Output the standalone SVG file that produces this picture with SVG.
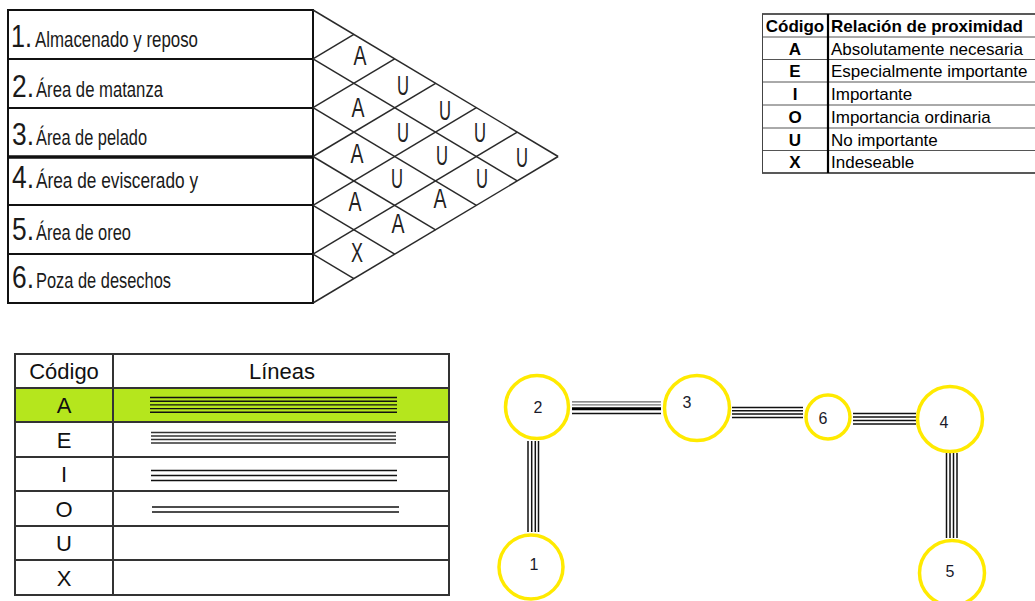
<svg xmlns="http://www.w3.org/2000/svg" width="1035" height="601" viewBox="0 0 1035 601">
  <style>
    .grid { stroke: #111; stroke-width: 2; fill: none; }
    .diag { stroke: #2a2a2a; stroke-width: 1.5; fill: none; }
    .num { font-family: "Liberation Sans Narrow", "Liberation Sans", Arial, sans-serif; font-size: 32px; fill: #1a1a1a; }
    .lbl { font-family: "Liberation Sans Narrow", "Liberation Sans", Arial, sans-serif; font-size: 22px; fill: #1a1a1a; }
    .code { font-family: "Liberation Sans Narrow", "Liberation Sans", Arial, sans-serif; font-size: 27px; fill: #222; text-anchor: middle; }
    .kt { font-family: "Liberation Sans", Arial, sans-serif; font-size: 17px; fill: #000; }
    .kb { font-weight: bold; }
    .kc { text-anchor: middle; }
    .kline { stroke: #555; stroke-width: 1; }
    .lg { stroke: #333; stroke-width: 2; fill: none; }
    .lt { font-family: "Liberation Sans", Arial, sans-serif; font-size: 22px; fill: #111; text-anchor: middle; }
    .ll { stroke: #111; stroke-width: 1.4; }
    .node { fill: #fff; stroke: #ffea00; stroke-width: 3.5; }
    .nt { font-family: "Liberation Sans", Arial, sans-serif; font-size: 16px; fill: #1a1a2a; text-anchor: middle; }
    .w { stroke: #111; stroke-width: 1.5; }
  </style>

  <!-- Relationship chart: activity list -->
  <g id="activity-table">
    <rect class="grid" x="8" y="10" width="305" height="293"/>
    <line class="grid" x1="8" y1="59" x2="313" y2="59"/>
    <line class="grid" x1="8" y1="108" x2="313" y2="108"/>
    <line class="grid" x1="8" y1="157" x2="313" y2="157" style="stroke-width:3.5"/>
    <line class="grid" x1="8" y1="205" x2="313" y2="205"/>
    <line class="grid" x1="8" y1="254" x2="313" y2="254"/>

    <text class="num" x="11" y="47" textLength="21" lengthAdjust="spacingAndGlyphs">1.</text>
    <text class="lbl" x="35" y="47" textLength="163" lengthAdjust="spacingAndGlyphs">Almacenado y reposo</text>
    <text class="num" x="12" y="97" textLength="22" lengthAdjust="spacingAndGlyphs">2.</text>
    <text class="lbl" x="36" y="97" textLength="127" lengthAdjust="spacingAndGlyphs">Área de matanza</text>
    <text class="num" x="12" y="145" textLength="22" lengthAdjust="spacingAndGlyphs">3.</text>
    <text class="lbl" x="36" y="145" textLength="111" lengthAdjust="spacingAndGlyphs">Área de pelado</text>
    <text class="num" x="12" y="188" textLength="22" lengthAdjust="spacingAndGlyphs">4.</text>
    <text class="lbl" x="36" y="188" textLength="162" lengthAdjust="spacingAndGlyphs">Área de eviscerado y</text>
    <text class="num" x="12" y="240" textLength="22" lengthAdjust="spacingAndGlyphs">5.</text>
    <text class="lbl" x="36" y="240" textLength="95" lengthAdjust="spacingAndGlyphs">Área de oreo</text>
    <text class="num" x="12" y="288" textLength="22" lengthAdjust="spacingAndGlyphs">6.</text>
    <text class="lbl" x="36" y="288" textLength="135" lengthAdjust="spacingAndGlyphs">Poza de desechos</text>
  </g>

  <!-- Relationship chart: diamond lattice -->
  <g id="relationship-lattice">
    <line class="diag" x1="313" y1="10" x2="558.1" y2="156.5"/>
    <line class="diag" x1="313" y1="58.8" x2="517.3" y2="180.9"/>
    <line class="diag" x1="313" y1="107.7" x2="476.4" y2="205.3"/>
    <line class="diag" x1="313" y1="156.5" x2="435.6" y2="229.8"/>
    <line class="diag" x1="313" y1="205.3" x2="394.7" y2="254.2"/>
    <line class="diag" x1="313" y1="254.2" x2="353.9" y2="278.6"/>
    <line class="diag" x1="313" y1="58.8" x2="353.9" y2="34.4"/>
    <line class="diag" x1="313" y1="107.7" x2="394.7" y2="58.8"/>
    <line class="diag" x1="313" y1="156.5" x2="435.6" y2="83.3"/>
    <line class="diag" x1="313" y1="205.3" x2="476.4" y2="107.7"/>
    <line class="diag" x1="313" y1="254.2" x2="517.3" y2="132.1"/>
    <line class="diag" x1="313" y1="303" x2="558.1" y2="156.5"/>

    <text class="code" x="360" y="65" textLength="13" lengthAdjust="spacingAndGlyphs">A</text>
    <text class="code" x="403" y="95" textLength="12" lengthAdjust="spacingAndGlyphs">U</text>
    <text class="code" x="358" y="117" textLength="13" lengthAdjust="spacingAndGlyphs">A</text>
    <text class="code" x="445" y="120" textLength="12" lengthAdjust="spacingAndGlyphs">U</text>
    <text class="code" x="403" y="142" textLength="12" lengthAdjust="spacingAndGlyphs">U</text>
    <text class="code" x="357" y="163" textLength="13" lengthAdjust="spacingAndGlyphs">A</text>
    <text class="code" x="480" y="142" textLength="12" lengthAdjust="spacingAndGlyphs">U</text>
    <text class="code" x="442" y="165" textLength="12" lengthAdjust="spacingAndGlyphs">U</text>
    <text class="code" x="397" y="188" textLength="12" lengthAdjust="spacingAndGlyphs">U</text>
    <text class="code" x="355" y="211" textLength="13" lengthAdjust="spacingAndGlyphs">A</text>
    <text class="code" x="522" y="167" textLength="12" lengthAdjust="spacingAndGlyphs">U</text>
    <text class="code" x="482" y="188" textLength="12" lengthAdjust="spacingAndGlyphs">U</text>
    <text class="code" x="440" y="208" textLength="13" lengthAdjust="spacingAndGlyphs">A</text>
    <text class="code" x="398" y="233" textLength="13" lengthAdjust="spacingAndGlyphs">A</text>
    <text class="code" x="357" y="262" textLength="12" lengthAdjust="spacingAndGlyphs">X</text>
  </g>

  <!-- Code key: proximity relation -->
  <g id="proximity-key">
    <line class="kline" x1="762" y1="37" x2="1035" y2="37"/>
    <line class="kline" x1="762" y1="59.5" x2="1035" y2="59.5"/>
    <line class="kline" x1="762" y1="82" x2="1035" y2="82"/>
    <line class="kline" x1="762" y1="105" x2="1035" y2="105"/>
    <line class="kline" x1="762" y1="128" x2="1035" y2="128"/>
    <line class="kline" x1="762" y1="150.5" x2="1035" y2="150.5"/>
    <line x1="762" y1="14" x2="1035" y2="14" stroke="#222" stroke-width="1.5"/>
    <line x1="762" y1="173" x2="1035" y2="173" stroke="#222" stroke-width="1.5"/>
    <line x1="762.5" y1="14" x2="762.5" y2="173" stroke="#444" stroke-width="1"/>
    <line x1="828" y1="14" x2="828" y2="173" stroke="#000" stroke-width="2.2"/>

    <text class="kt kb kc" x="795" y="32">Código</text>
    <text class="kt kb" x="831" y="32">Relación de proximidad</text>
    <text class="kt kb kc" x="795" y="54.5">A</text>
    <text class="kt" x="831" y="54.5">Absolutamente necesaria</text>
    <text class="kt kb kc" x="795" y="77">E</text>
    <text class="kt" x="831" y="77">Especialmente importante</text>
    <text class="kt kb kc" x="795" y="100">I</text>
    <text class="kt" x="831" y="100">Importante</text>
    <text class="kt kb kc" x="795" y="123">O</text>
    <text class="kt" x="831" y="123">Importancia ordinaria</text>
    <text class="kt kb kc" x="795" y="145.5">U</text>
    <text class="kt" x="831" y="145.5">No importante</text>
    <text class="kt kb kc" x="795" y="168">X</text>
    <text class="kt" x="831" y="168">Indeseable</text>
  </g>

  <!-- Line-style legend -->
  <g id="line-legend">
    <rect x="15" y="388" width="434" height="34" fill="#b5e61d"/>
    <rect class="lg" x="15" y="354" width="434" height="241"/>
    <line class="lg" x1="113" y1="354" x2="113" y2="595"/>
    <line class="lg" x1="15" y1="388" x2="449" y2="388"/>
    <line class="lg" x1="15" y1="422" x2="449" y2="422"/>
    <line class="lg" x1="15" y1="457" x2="449" y2="457"/>
    <line class="lg" x1="15" y1="491" x2="449" y2="491"/>
    <line class="lg" x1="15" y1="526" x2="449" y2="526"/>
    <line class="lg" x1="15" y1="560" x2="449" y2="560"/>

    <text class="lt" x="64" y="379">Código</text>
    <text class="lt" x="282" y="379">Líneas</text>
    <text class="lt" x="64" y="413">A</text>
    <text class="lt" x="64" y="448">E</text>
    <text class="lt" x="64" y="482">I</text>
    <text class="lt" x="64" y="517">O</text>
    <text class="lt" x="64" y="551">U</text>
    <text class="lt" x="64" y="586">X</text>

    <g class="ll">
      <line x1="150" y1="397.5" x2="397" y2="397.5"/>
      <line x1="150" y1="401.2" x2="397" y2="401.2"/>
      <line x1="150" y1="404.9" x2="397" y2="404.9"/>
      <line x1="150" y1="408.6" x2="397" y2="408.6"/>
      <line x1="150" y1="412.3" x2="397" y2="412.3"/>

      <line x1="151" y1="432.5" x2="396" y2="432.5" stroke="#333"/>
      <line x1="151" y1="436" x2="396" y2="436" stroke="#333"/>
      <line x1="151" y1="439.5" x2="396" y2="439.5" stroke="#333"/>
      <line x1="151" y1="443" x2="396" y2="443" stroke="#333"/>

      <line x1="151" y1="470.5" x2="397" y2="470.5"/>
      <line x1="151" y1="475.5" x2="397" y2="475.5"/>
      <line x1="151" y1="480.5" x2="397" y2="480.5"/>

      <line x1="152" y1="507" x2="399" y2="507"/>
      <line x1="152" y1="512" x2="399" y2="512"/>
    </g>
  </g>

  <!-- Layout graph: connectors -->
  <g id="connectors">
    <g id="edge-2-3">
      <line x1="572" y1="401.8" x2="661" y2="401.8" stroke="#666" stroke-width="1.3"/>
      <line x1="572" y1="404.8" x2="661" y2="404.8" stroke="#777" stroke-width="1.3"/>
      <line x1="572" y1="408.8" x2="661" y2="408.8" stroke="#000" stroke-width="3"/>
      <line x1="572" y1="413.5" x2="661" y2="413.5" stroke="#111" stroke-width="1.3"/>
    </g>
    <g id="edge-3-6" class="w">
      <line x1="732" y1="407.5" x2="803" y2="407.5"/>
      <line x1="732" y1="410.8" x2="803" y2="410.8"/>
      <line x1="732" y1="414.1" x2="803" y2="414.1"/>
      <line x1="732" y1="417.5" x2="803" y2="417.5"/>
    </g>
    <g id="edge-6-4" class="w">
      <line x1="853" y1="413.5" x2="916" y2="413.5"/>
      <line x1="853" y1="417" x2="916" y2="417"/>
      <line x1="853" y1="420.5" x2="916" y2="420.5"/>
      <line x1="853" y1="424" x2="916" y2="424"/>
    </g>
    <g id="edge-4-5" class="w">
      <line x1="946.5" y1="453" x2="946.5" y2="538"/>
      <line x1="950" y1="453" x2="950" y2="538"/>
      <line x1="953.5" y1="453" x2="953.5" y2="538"/>
      <line x1="957" y1="453" x2="957" y2="538"/>
    </g>
    <g id="edge-2-1" class="w">
      <line x1="528" y1="441" x2="528" y2="532"/>
      <line x1="531.7" y1="441" x2="531.7" y2="532"/>
      <line x1="535.3" y1="441" x2="535.3" y2="532"/>
      <line x1="538.5" y1="441" x2="538.5" y2="532"/>
    </g>
  </g>

  <!-- Layout graph: nodes -->
  <g id="node-2"><circle class="node" cx="537" cy="407" r="31.5"/><text class="nt" x="538" y="413">2</text></g>
  <g id="node-3"><circle class="node" cx="697" cy="408" r="32.5"/><text class="nt" x="687" y="408">3</text></g>
  <g id="node-6"><circle class="node" cx="828" cy="417" r="22"/><text class="nt" x="823" y="424">6</text></g>
  <g id="node-4"><circle class="node" cx="950" cy="419" r="32.5"/><text class="nt" x="944" y="428">4</text></g>
  <g id="node-5"><circle class="node" cx="952" cy="573" r="32.5"/><text class="nt" x="950" y="577">5</text></g>
  <g id="node-1"><circle class="node" cx="531" cy="567" r="32"/><text class="nt" x="534" y="570">1</text></g>
</svg>
